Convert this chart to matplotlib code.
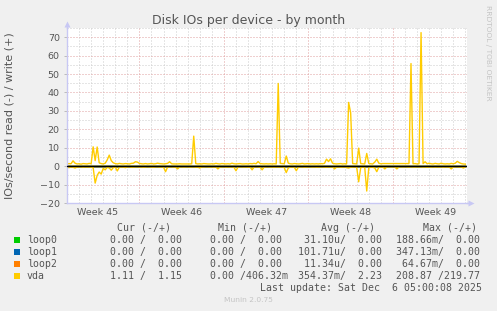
import numpy as np
import matplotlib
matplotlib.use("Agg")
from matplotlib import pyplot as plt
from matplotlib.patches import Rectangle

# vda write (+) and read (shown as -), IOs/second, one sample every 4 hours
vda_write = [
    1.2, 1.4, 1.3, 2.9, 1.6, 1.2, 1.3, 1.1, 1.4, 1.3,
    1.2, 1.5, 1.3, 10.5, 3.0, 10.4, 1.8, 1.4, 1.2, 1.6,
    3.4, 6.0, 3.0, 1.8, 1.4, 1.2, 1.5, 1.3, 1.2, 1.4,
    1.3, 1.2, 1.5, 1.6, 2.4, 2.2, 1.5, 1.3, 1.2, 1.4,
    1.2, 1.3, 1.5, 1.2, 1.3, 1.6, 1.4, 1.3, 1.2, 1.3,
    1.5, 2.4, 1.3, 1.2, 1.2, 1.2, 1.3, 1.2, 1.2, 1.2,
    1.2, 1.2, 1.3, 16.3, 1.4, 1.2, 1.3, 1.2, 1.4, 1.3,
    1.2, 1.2, 1.3, 1.2, 1.5, 1.3, 1.2, 1.4, 1.3, 1.2,
    1.3, 1.2, 1.6, 1.3, 1.2, 1.3, 1.4, 1.2, 1.2, 1.3,
    1.2, 1.4, 1.3, 1.5, 1.3, 2.5, 1.4, 1.3, 1.2, 1.3,
    1.2, 1.3, 1.2, 1.3, 1.2, 44.9, 1.5, 1.4, 1.3, 5.5,
    1.6, 1.3, 1.2, 1.4, 1.3, 1.2, 1.3, 1.5, 1.2, 1.3,
    1.4, 1.2, 1.3, 1.2, 1.3, 1.2, 1.4, 1.3, 1.5, 3.8,
    2.5, 4.0, 1.6, 1.3, 1.2, 1.3, 1.4, 1.2, 1.3, 1.2,
    34.6, 29.0, 1.4, 1.3, 1.2, 9.8, 1.4, 1.3, 1.2, 6.9,
    1.5, 1.3, 1.2, 2.2, 3.8, 1.6, 1.3, 1.4, 1.4, 1.4,
    1.4, 1.4, 1.4, 1.4, 1.4, 1.4, 1.4, 1.4, 1.4, 1.4,
    1.4, 55.7, 1.3, 1.4, 1.2, 1.3, 72.5, 1.4, 2.4, 1.3,
    1.6, 1.3, 1.2, 1.5, 1.3, 1.2, 1.6, 1.3, 1.2, 1.3,
    1.2, 1.5, 1.3, 1.6, 2.6, 1.9, 1.4, 1.2, 1.1,
]
vda_read = [
    0.5, 0.8, 0.4, 0.6, 1.0, 0.5, 0.4, 0.3, 0.6, 0.4,
    0.5, 0.4, 0.6, 0.8, 9.2, 5.0, 3.2, 4.3, 1.2, 2.0,
    0.6, 1.0, 2.2, 0.8, 0.5, 2.6, 0.6, 0.4, 0.5, 0.8,
    0.4, 0.3, 0.6, 0.5, 0.4, 0.3, 0.5, 0.4, 0.6, 0.5,
    0.3, 0.4, 0.5, 0.6, 0.4, 0.3, 0.5, 0.4, 0.6, 3.0,
    0.5, 0.4, 0.3, 0.5, 0.6, 1.5, 0.4, 0.3, 0.5, 0.4,
    0.3, 0.5, 0.4, 0.3, 0.6, 0.5, 1.0, 0.4, 0.5, 0.3,
    0.4, 0.5, 0.3, 0.6, 0.4, 1.5, 0.5, 0.4, 0.3, 0.6,
    0.4, 0.5, 0.3, 0.6, 2.5, 0.5, 0.4, 0.3, 0.5, 0.4,
    0.6, 0.4, 2.0, 0.5, 0.3, 0.4, 0.6, 2.0, 0.5, 0.4,
    0.3, 0.5, 0.4, 0.6, 0.4, 0.5, 0.4, 0.3, 0.8, 3.5,
    1.0, 0.5, 0.4, 0.6, 2.5, 0.5, 0.4, 0.3, 0.6, 0.5,
    0.4, 0.3, 0.5, 0.4, 0.6, 0.5, 0.4, 0.3, 0.5, 0.6,
    0.4, 0.5, 0.3, 1.5, 0.5, 0.4, 0.6, 0.5, 0.4, 0.8,
    1.0, 0.6, 0.5, 0.4, 0.6, 8.5, 0.8, 0.5, 0.6, 13.5,
    1.0, 0.5, 0.6, 1.0, 3.0, 0.6, 0.5, 0.4, 1.5, 0.4,
    0.3, 0.4, 0.3, 0.5, 1.5, 0.4, 0.3, 0.4, 0.3, 0.4,
    0.5, 0.3, 0.4, 0.5, 0.3, 0.4, 0.3, 0.5, 0.4, 0.6,
    0.4, 0.5, 0.3, 0.6, 0.4, 0.5, 0.3, 0.6, 0.4, 0.5,
    0.4, 1.5, 0.5, 0.4, 0.3, 0.5, 0.4, 1.0, 0.5,
]
# loop devices stay at zero on this scale
loop_level = [0.0, 0.0]

devices = ["loop0", "loop1", "loop2", "vda"]
colors = ["#00CC00", "#0066B3", "#FF8000", "#FFCC00"]
cur_vals = ["  0.00 /  0.00 ", "  0.00 /  0.00 ", "  0.00 /  0.00 ", "  1.11 /  1.15 "]
min_vals = ["  0.00 /  0.00 ", "  0.00 /  0.00 ", "  0.00 /  0.00 ", "  0.00 /406.32m"]
avg_vals = [" 31.10u/  0.00 ", "101.71u/  0.00 ", " 11.34u/  0.00 ", "354.37m/  2.23 "]
max_vals = ["188.66m/  0.00 ", "347.13m/  0.00 ", " 64.67m/  0.00 ", "208.87 /219.77 "]

week_labels = ["Week 45", "Week 46", "Week 47", "Week 48", "Week 49"]
week_starts = [6, 13, 20, 27]
span_days = 33.14

W, H = 497, 311
fig = plt.figure(figsize=(W / 100, H / 100), dpi=100)
fig.patch.set_facecolor("#F0F0F0")
ax = fig.add_axes([67 / W, 1 - 203 / H, 400 / W, 175 / H])
ax.set_facecolor("white")

t = np.arange(len(vda_write)) / 6.0

for name, col in zip(devices[:3], colors[:3]):
    ax.plot([0, t[-1]], loop_level, color=col, lw=1.0)
    ax.plot([0, t[-1]], loop_level, color=col, lw=1.0)
ax.plot(t, vda_write, color=colors[3], lw=1.0)
ax.plot(t, -np.array(vda_read), color=colors[3], lw=1.0)
ax.axhline(0, color="black", lw=1.0, zorder=5)

ax.set_xlim(0, span_days)
ax.set_ylim(-20, 75)

# grid
dots = (0, (1, 2))
ax.set_yticks(np.arange(-20, 71, 10))
ax.set_yticks(np.arange(-15, 76, 10), minor=True)
ax.yaxis.grid(True, which="major", color="#e0a0a0", lw=0.72, ls=dots)
ax.yaxis.grid(True, which="minor", color="#cccccc", lw=0.72, ls=dots)
days = [d for d in range(1, 34) if d not in week_starts]
ax.set_xticks(days, minor=True)
ax.xaxis.grid(True, which="minor", color="#cccccc", lw=0.72, ls=dots)
for w in week_starts:
    ax.axvline(w, color="#e0a0a0", lw=0.72, ls=dots, zorder=0.5)
ax.set_xticks([w - 3.5 for w in week_starts] + [week_starts[-1] + 3.5], week_labels)
ax.set_axisbelow(True)

ax.tick_params(axis="x", which="both", length=0, pad=3.5, labelsize=6.8, labelcolor="#555555")
ax.tick_params(axis="y", which="major", length=2.2, width=0.7, color="#bbbbbb",
               pad=3.0, labelsize=6.8, labelcolor="#555555")
ax.tick_params(axis="y", which="minor", length=0)

for s in ["top", "right"]:
    ax.spines[s].set_visible(False)
for s in ["left", "bottom"]:
    ax.spines[s].set_color("#c8c8f4")
    ax.spines[s].set_linewidth(1.0)
ax.plot([0, 0], [1, 1.015], color="#c8c8f4", lw=1.0, transform=ax.transAxes, clip_on=False)
ax.plot([0], [1.025], marker="^", ms=4, color="#c8c8f4", mec="none",
        transform=ax.transAxes, clip_on=False)
ax.plot([1, 1.005], [0, 0], color="#c8c8f4", lw=1.0, transform=ax.transAxes, clip_on=False)
ax.plot([1.009], [0], marker=">", ms=4, color="#c8c8f4", mec="none",
        transform=ax.transAxes, clip_on=False)

def fx(px):
    return px / W

def fy(py):
    return 1 - py / H

fig.text(0.5, fy(24), "Disk IOs per device - by month", ha="center", va="baseline",
         fontsize=9, color="#555555")
fig.text(fx(10), fy(115.5), "IOs/second read (-) / write (+)", rotation=90,
         ha="center", va="center", fontsize=8, color="#555555")
fig.text(fx(488), fy(53), "RRDTOOL / TOBI OETIKER", rotation=270, ha="center",
         va="center", fontsize=5.4, color="#c4c4c4")

mono = {"family": "DejaVu Sans Mono", "fontsize": 7.1, "color": "#555555"}
row0 = 228
for x, h in zip([116.7, 218.3, 320.7, 422.7], ["Cur (-/+)", "Min (-/+)", "Avg (-/+)", "Max (-/+)"]):
    fig.text(fx(x), fy(row0), h, ha="left", va="center", **mono)
for k, name in enumerate(devices):
    y = row0 + 12 * (k + 1)
    fig.patches.append(Rectangle((fx(14), fy(y + 2.8)), 6 / W, 5.5 / H,
                                 transform=fig.transFigure, facecolor=colors[k],
                                 edgecolor="none"))
    fig.text(fx(26.7), fy(y), name, ha="left", va="center", **mono)
    for x, vals in zip([98, 197.5, 297.5, 396], [cur_vals, min_vals, avg_vals, max_vals]):
        fig.text(fx(x), fy(y), vals[k], ha="left", va="center", **mono)
fig.text(fx(482.5), fy(row0 + 60), "Last update: Sat Dec  6 05:00:08 2025",
         ha="right", va="center", **mono)
fig.text(0.5, fy(300), "Munin 2.0.75", ha="center", va="center", fontsize=5.4,
         color="#c4c4c4")

fig.savefig("out.png", dpi=100, facecolor=fig.get_facecolor())
